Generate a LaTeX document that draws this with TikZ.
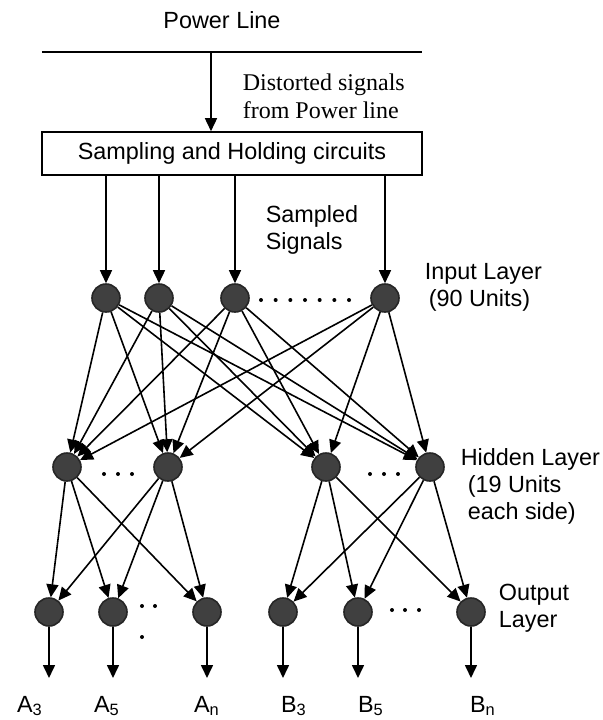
\documentclass[tikz,border=0pt]{standalone}
\usepackage{fontspec}
\setmainfont{Liberation Sans}
\newfontfamily\timesfont{Liberation Serif}
\usetikzlibrary{arrows.meta}

\tikzset{
  unit/.style={circle,draw=black!85,fill=black!75,minimum size=14pt,inner sep=0pt},
  sig/.style={-{Triangle[length=6.5pt,width=6pt]}},
  txt/.style={inner sep=0pt,align=left,font=\fontsize{11.7}{13.5}\selectfont},
}

\begin{document}
\begin{tikzpicture}[x=0.5pt,y=-0.5pt,line width=0.8pt]
\useasboundingbox (0,0) rectangle (602,720);
\node[txt] (pwr) at (222,20) {Power Line};
\coordinate (pl1) at (42,52);
\coordinate (pl2) at (422,52);
\coordinate (tap) at (211,52);
\draw (pl1) -- (pl2);
\node[draw,minimum width=190pt,minimum height=21.5pt,inner sep=0pt,font=\fontsize{11.7}{13.5}\selectfont] (sh) at (232,153.5) {Sampling and Holding circuits};
\draw[sig] (tap) -- (tap |- sh.north);
\node[txt,anchor=west,font=\timesfont\fontsize{12}{14}\selectfont] (dist) at (242,96) {Distorted signals\\from Power line};
\node[txt,anchor=west] (samp) at (265,230) {Sampled\\Signals};

\foreach \n/\x in {1/106,2/159,3/235,4/385}
  \node[unit] (in\n) at (\x,298) {};
\foreach \n/\x in {1/67,2/168,3/326,4/430}
  \node[unit] (hd\n) at (\x,467) {};
\foreach \n/\x in {1/49,2/113,3/207,4/283,5/358,6/471}
  \node[unit] (out\n) at (\x,612) {};

\node[txt,anchor=west] (inlab) at (424,287) {Input Layer\\\hspace*{2pt}(90 Units)};
\node[txt,anchor=west] (hdlab) at (460,486) {Hidden Layer\\\hspace*{3.5pt}(19 Units\\\hspace*{3.5pt}each side)};
\node[txt,anchor=west] (outlab) at (498,608) {Output\\Layer};

\foreach \i in {1,...,4} {
  \draw[sig] (sh.south -| in\i) -- (in\i);
  \foreach \j in {1,...,4}
    \draw[sig] (in\i) -- (hd\j);
}
\foreach \j in {1,2,3} {
  \draw[sig] (hd1) -- (out\j);
  \draw[sig] (hd2) -- (out\j);
}
\foreach \j in {4,5,6} {
  \draw[sig] (hd3) -- (out\j);
  \draw[sig] (hd4) -- (out\j);
}
\foreach \j in {1,...,6} {
  \path (out\j) ++(0,66) coordinate (end\j);
  \draw[sig] (out\j) -- (end\j);
}
\node[txt] (lab1) at (30,706) {A\textsubscript{3}};
\node[txt] (lab2) at (107,706) {A\textsubscript{5}};
\node[txt] (lab3) at (207,706) {A\textsubscript{n}};
\node[txt] (lab4) at (294,706) {B\textsubscript{3}};
\node[txt] (lab5) at (371,706) {B\textsubscript{5}};
\node[txt] (lab6) at (483,706) {B\textsubscript{n}};

\foreach \x in {261,275.67,...,350}
  \fill (\x,300) circle[radius=2];
\foreach \x in {104,118,132,370,384,398}
  \fill (\x,474) circle[radius=2];
\foreach \x in {392,405,419}
  \fill (\x,610) circle[radius=2];
\fill (142,606) circle[radius=2];
\fill (155,606) circle[radius=2];
\fill (142,637) circle[radius=2];
\end{tikzpicture}
\end{document}
